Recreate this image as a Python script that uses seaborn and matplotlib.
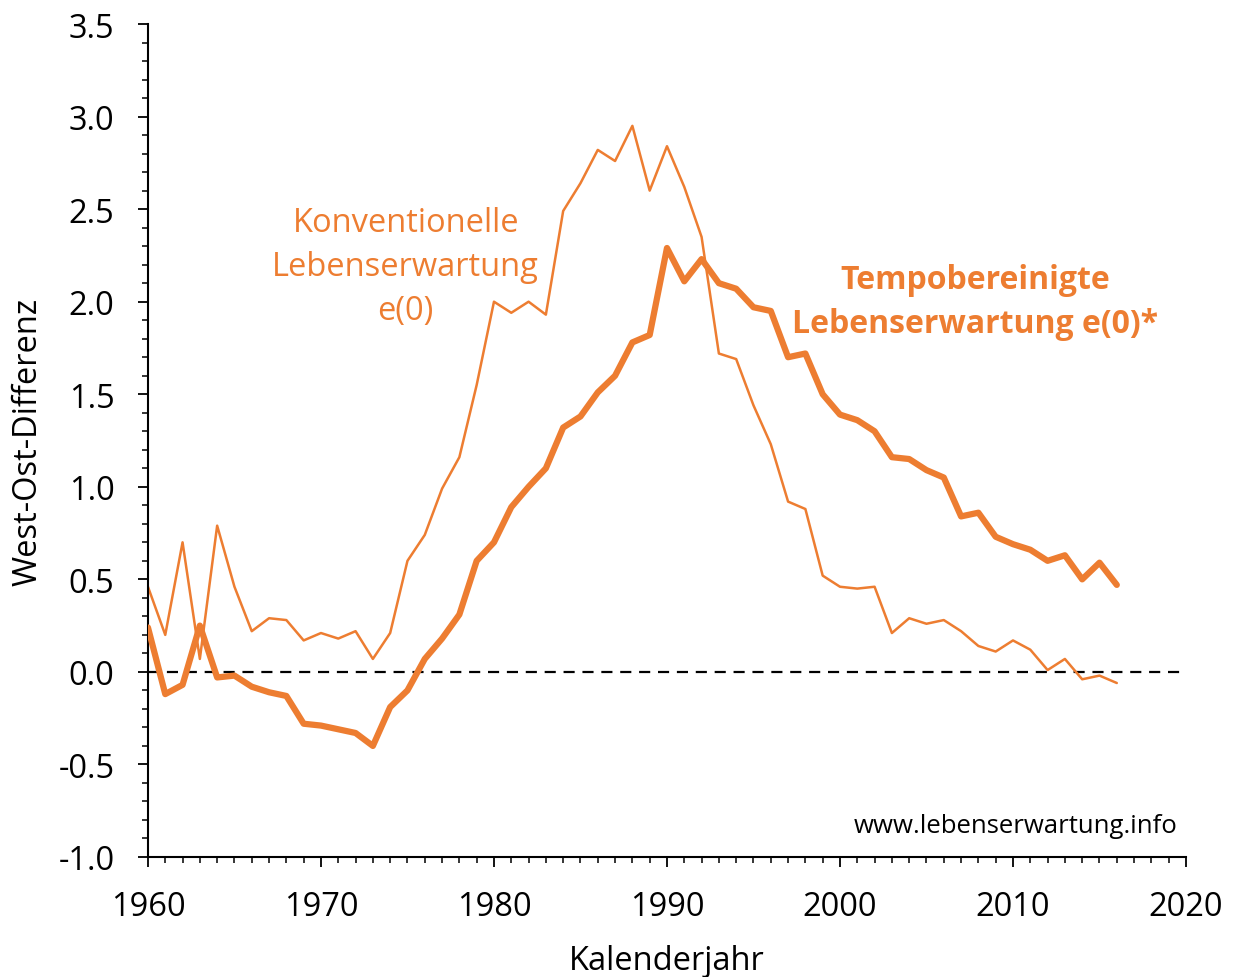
import numpy as np
import pandas as pd
import matplotlib.pyplot as plt
import seaborn as sns
from matplotlib.ticker import MultipleLocator

years = list(range(1960, 2017))

konventionell = [0.46, 0.20, 0.70, 0.07, 0.79, 0.46, 0.22, 0.29, 0.28, 0.17,
                 0.21, 0.18, 0.22, 0.07, 0.21, 0.60, 0.74, 0.99, 1.16, 1.55,
                 2.00, 1.94, 2.00, 1.93, 2.49, 2.64, 2.82, 2.76, 2.95, 2.60,
                 2.84, 2.62, 2.35, 1.72, 1.69, 1.44, 1.23, 0.92, 0.88, 0.52,
                 0.46, 0.45, 0.46, 0.21, 0.29, 0.26, 0.28, 0.22, 0.14, 0.11,
                 0.17, 0.12, 0.01, 0.07, -0.04, -0.02, -0.06]

tempobereinigt = [0.24, -0.12, -0.07, 0.25, -0.03, -0.02, -0.08, -0.11, -0.13, -0.28,
                  -0.29, -0.31, -0.33, -0.40, -0.19, -0.10, 0.07, 0.18, 0.31, 0.60,
                  0.70, 0.89, 1.00, 1.10, 1.32, 1.38, 1.51, 1.60, 1.78, 1.82,
                  2.29, 2.11, 2.23, 2.10, 2.07, 1.97, 1.95, 1.70, 1.72, 1.50,
                  1.39, 1.36, 1.30, 1.16, 1.15, 1.09, 1.05, 0.84, 0.86, 0.73,
                  0.69, 0.66, 0.60, 0.63, 0.50, 0.59, 0.47]

df = pd.DataFrame({"Jahr": years,
                   "Konventionell": konventionell,
                   "Tempobereinigt": tempobereinigt})

sns.set_style("ticks")
plt.rcParams['font.family'] = ['Open Sans', 'DejaVu Sans']
plt.rcParams['text.color'] = 'black'
plt.rcParams['axes.labelcolor'] = 'black'

orange = "#ED7D31"

fig = plt.figure(figsize=(12.34, 9.78), dpi=100)
ax = fig.add_axes([0.1199, 0.1227, 0.8412, 0.8517])

ax.axhline(0, color="black", linestyle=(0, (5, 3.5)), linewidth=1.6, zorder=1)

sns.lineplot(data=df, x="Jahr", y="Konventionell", ax=ax, color=orange, linewidth=1.8, zorder=2)
sns.lineplot(data=df, x="Jahr", y="Tempobereinigt", ax=ax, color=orange, linewidth=4.5, zorder=3)

ax.set_xlim(1960, 2020)
ax.set_ylim(-1.0, 3.5)
ax.xaxis.set_major_locator(MultipleLocator(10))
ax.xaxis.set_minor_locator(MultipleLocator(1))
ax.yaxis.set_major_locator(MultipleLocator(0.5))
ax.yaxis.set_minor_locator(MultipleLocator(0.1))
ax.yaxis.set_major_formatter(plt.FuncFormatter(lambda v, p: f"{v:.1f}"))

for s in ["top", "right"]:
    ax.spines[s].set_visible(False)
for s in ["left", "bottom"]:
    ax.spines[s].set_linewidth(1.5)
    ax.spines[s].set_color("black")

ax.tick_params(axis="both", which="major", direction="out", length=7, width=1.3,
               labelsize=23.5, pad=17, color="black", labelcolor="black")
ax.tick_params(axis="both", which="minor", direction="out", length=4.5, width=1.1, color="black")

ax.set_xlabel("Kalenderjahr", fontsize=23.5, labelpad=15)
ax.set_ylabel("West-Ost-Differenz", fontsize=23.5, labelpad=10)

ax.text(1974.9, 2.19, "Konventionelle\nLebenserwartung\ne(0)", color=orange, fontsize=23.5,
        ha="center", va="center", linespacing=1.45)
ax.text(2007.8, 2.0, "Tempobereinigte\nLebenserwartung e(0)*", color=orange, fontsize=23,
        fontweight="bold", ha="center", va="center", linespacing=1.45)
ax.text(2019.5, -0.83, "www.lebenserwartung.info", color="black", fontsize=18.5,
        ha="right", va="center")

fig.savefig("out.png", dpi=100)
